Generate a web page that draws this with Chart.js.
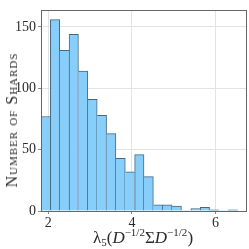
<!DOCTYPE html>
<html>
<head>
<meta charset="utf-8">
<script src="https://cdn.jsdelivr.net/npm/chart.js@4/dist/chart.umd.min.js"></script>
<style>
    body { margin: 0; background: #fff; }
    #wrap { position: relative; width: 249px; height: 249px; }
    .axis-title {
        position: absolute;
        font-family: "Liberation Serif", serif;
        color: #2a2a2a;
        white-space: nowrap;
        line-height: 1;
    }
    #yTitle {
        left: 12px;
        top: 120px;
        font-size: 16px;
        font-variant: small-caps;
        letter-spacing: 1px;
        transform: translate(-50%, -50%) rotate(-90deg);
    }
    #xTitle {
        left: 143px;
        top: 237px;
        font-size: 17px;
        transform: translate(-50%, -50%);
    }
    #xTitle sup { font-size: 11px; vertical-align: 7px; }
    #xTitle sub { font-size: 11px; vertical-align: -3px; }
</style>
</head>
<body>
<div id="wrap">
    <canvas id="histChart" width="249" height="249"></canvas>
    <div id="yTitle" class="axis-title">Number of Shards</div>
    <div id="xTitle" class="axis-title">λ<sub>5</sub>(<i>D</i><sup>−1/2</sup>Σ<i>D</i><sup>−1/2</sup>)</div>
</div>
<script>
// bin edges of the histogram (x values)
let binEdges = [1.825, 2.049, 2.273, 2.497, 2.721, 2.946, 3.170, 3.394, 3.618, 3.842, 4.066,
    4.290, 4.514, 4.738, 4.962, 5.187, 5.411, 5.635, 5.859, 6.083, 6.307, 6.531, 6.755];
// number of shards in each bin
let shardCounts = [77, 156, 131, 144, 114, 91, 78, 63, 43, 32, 46, 28, 5, 5, 4, 0, 2, 3, 1, 0, 1, 0];
let xTicks = [2, 4, 6];
let yTicks = [0, 50, 100, 150];

let points = shardCounts.map((count, index) => ({
    x: (binEdges[index] + binEdges[index + 1]) / 2,
    y: count
}));

function barBorder(context) {
    let i = context.dataIndex;
    let count = shardCounts[i];
    let prev = i > 0 ? shardCounts[i - 1] : 0;
    let next = i < shardCounts.length - 1 ? shardCounts[i + 1] : 0;
    return { top: 1, bottom: 0, left: prev < count ? 1 : 0, right: next <= count ? 1 : 0 };
}

let frame = {
    id: 'frame',
    afterDraw(chart) {
        let area = chart.chartArea;
        let ctx = chart.ctx;
        ctx.save();
        ctx.strokeStyle = '#666';
        ctx.lineWidth = 1;
        ctx.strokeRect(Math.round(area.left) + 0.5, Math.round(area.top) + 0.5,
            Math.round(area.right - area.left) - 1, Math.round(area.bottom - area.top));
        ctx.restore();
    }
};

let tickFont = { family: '"Liberation Serif", serif', size: 14 };

new Chart(document.getElementById('histChart'), {
    type: 'bar',
    data: {
        datasets: [{
            data: points,
            backgroundColor: '#87cefa',
            borderColor: '#45687f',
            borderWidth: barBorder,
            borderSkipped: false,
            barPercentage: 1,
            categoryPercentage: 1
        }]
    },
    options: {
        responsive: false,
        animation: false,
        layout: { padding: { top: 2, right: 2, left: 0, bottom: 0 } },
        plugins: { legend: { display: false }, tooltip: { enabled: false } },
        scales: {
            x: {
                type: 'linear',
                min: binEdges[0],
                max: binEdges[binEdges.length - 1],
                offset: false,
                grid: { offset: false, color: '#e3e3e3', tickLength: 3, tickColor: '#888' },
                border: { display: false },
                afterBuildTicks: scale => { scale.ticks = xTicks.map(v => ({ value: v })); },
                afterFit: scale => { scale.height = 38; },
                ticks: { font: tickFont, color: '#2a2a2a', padding: 1, maxRotation: 0 }
            },
            y: {
                min: 0,
                max: 163.5,
                grid: { color: '#e3e3e3', tickLength: 3, tickColor: '#888' },
                border: { display: false },
                afterBuildTicks: scale => { scale.ticks = yTicks.map(v => ({ value: v })); },
                afterFit: scale => { scale.width = 41; },
                ticks: { font: tickFont, color: '#2a2a2a', padding: 2 }
            }
        }
    },
    plugins: [frame]
});
</script>
</body>
</html>
